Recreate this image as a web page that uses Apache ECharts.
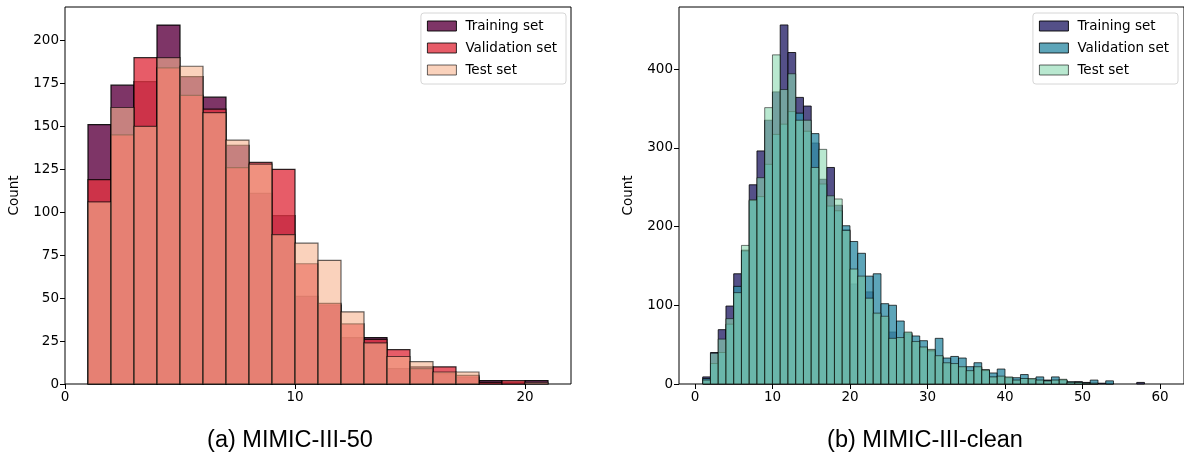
<!DOCTYPE html>
<html><head><meta charset="utf-8">
<script src="https://cdn.jsdelivr.net/npm/echarts@6/dist/echarts.min.js"></script>
<style>html,body{margin:0;padding:0;background:#fff}#c{width:1184px;height:461px}</style>
</head><body><div id="c"></div>
<script>
// ---------- (a) MIMIC-III-50 : histogram bins (left edge, width 1) ----------
const binStartA = [1,2,3,4,5,6,7,8,9,10,11,12,13,14,15,16,17,18,19,20];
const trainA = [151,174,176,209,179,167,139,111,98,51,46,27,27,9,10,6,4,2,1,2];
const valA   = [119,145,190,184,168,160,126,129,125,70,47,35,26,20,9,10,5,1,2,0];
const testA  = [106,161,150,190,185,158,142,128,87,82,72,42,24,16,13,7,7,0,0,1];

// ---------- (b) MIMIC-III-clean ----------
const binStartB = [1,2,3,4,5,6,7,8,9,10,11,12,13,14,15,16,17,18,19,20,
  21,22,23,24,25,26,27,28,29,30,31,32,33,34,35,36,37,38,39,40,
  41,42,43,44,45,46,47,48,49,50,51,52,53,54,55,56,57];
const trainB = [9,40,69,99,140,170,253,296,335,371,456,421,364,353,306,260,275,227,196,127,
  135,117,89,84,66,58,63,53,46,43,35,26,25,21,16,21,18,9,9,8,
  5,7,6,5,5,5,5,2,3,2,1,1,1,0,0,0,2];
const valB   = [7,26,40,76,124,169,233,238,279,317,330,346,344,321,318,254,226,220,201,181,
  166,137,140,102,100,80,65,61,55,42,58,33,35,33,22,27,17,14,19,8,
  8,12,6,9,4,9,5,3,2,1,5,0,4,0,0,0,0];
const testB  = [5,39,57,83,116,176,234,262,351,418,374,394,335,335,275,298,239,235,195,146,
  137,109,90,86,58,59,66,54,47,44,36,27,26,22,17,22,18,9,10,9,
  5,7,7,5,4,5,6,2,2,1,1,0,0,0,0,0,0];

const seriesNames = ['Training set', 'Validation set', 'Test set'];
const xTicksA = [0, 10, 20];
const yTicksA = [0, 25, 50, 75, 100, 125, 150, 175, 200];
const xTicksB = [0, 10, 20, 30, 40, 50, 60];
const yTicksB = [0, 100, 200, 300, 400];
const captions = ['(a) MIMIC-III-50', '(b) MIMIC-III-clean'];

// ---------- styles ----------
const colorsA = ['#701F57', '#E13342', '#F6B48F'];
const colorsB = ['#413D7B', '#348FA7', '#8AD9B1'];
const alphas = [0.9, 0.8, 0.6];
const FONT = 'DejaVu Sans';

function rows(starts, vals) { return starts.map((s, i) => [s, s + 1, vals[i]]); }

function histSeries(name, data, gi, color, alpha, lw) {
  return {
    type: 'custom', name: name, xAxisIndex: gi, yAxisIndex: gi,
    data: data, encode: {x: [0, 1], y: 2},
    itemStyle: {color: color, opacity: alpha},
    renderItem: function (params, api) {
      const v = api.value(2);
      if (!v) return null;
      const p0 = api.coord([api.value(0), 0]);
      const p1 = api.coord([api.value(1), v]);
      return {
        type: 'rect',
        shape: {x: p0[0], y: p1[1], width: p1[0] - p0[0], height: p0[1] - p1[1]},
        style: {fill: color, stroke: '#000', lineWidth: lw, opacity: alpha}
      };
    }
  };
}

function xAx(gi, min, max, ticks) {
  return {
    type: 'value', gridIndex: gi, min: min, max: max,
    axisLine: {show: false, onZero: false},
    axisTick: {show: true, length: 5, lineStyle: {color: '#000', width: 1}, customValues: ticks},
    axisLabel: {customValues: ticks, color: '#000', fontSize: 13.5, fontFamily: FONT, margin: 6},
    splitLine: {show: false}
  };
}
function yAx(gi, min, max, ticks) {
  return {
    type: 'value', gridIndex: gi, min: min, max: max, position: 'left',
    name: 'Count', nameLocation: 'middle', nameGap: 44, nameRotate: 90,
    nameTextStyle: {color: '#000', fontSize: 13.5, fontFamily: FONT},
    axisLine: {show: false, onZero: false},
    axisTick: {show: true, length: 5, lineStyle: {color: '#000', width: 1}, customValues: ticks},
    axisLabel: {customValues: ticks, color: '#000', fontSize: 13.5, fontFamily: FONT, margin: 6},
    splitLine: {show: false}
  };
}
function legendFor(right, colors) {
  return {
    orient: 'vertical', right: right, top: 13,
    padding: [6, 9, 7, 6], itemGap: 8, itemWidth: 29, itemHeight: 10, icon: 'rect',
    borderColor: '#d6d6d6', borderWidth: 1, borderRadius: 3, backgroundColor: 'rgba(255,255,255,0.8)',
    selectedMode: false,
    textStyle: {color: '#000', fontSize: 13.5, fontFamily: FONT, padding: [0, 0, 0, 4]},
    data: seriesNames.map((n, i) => ({name: n, itemStyle: {color: colors[i], opacity: alphas[i], borderColor: '#000', borderWidth: 1}}))
  };
}

const chart = echarts.init(document.getElementById('c'), null, {renderer: 'canvas'});
const series = [];
const valsA = [trainA, valA, testA], valsB = [trainB, valB, testB];
for (let i = 0; i < 3; i++) series.push(histSeries(seriesNames[i], rows(binStartA, valsA[i]), 0, colorsA[i], alphas[i], 1.2));
for (let i = 0; i < 3; i++) series.push(histSeries(seriesNames[i], rows(binStartB, valsB[i]), 1, colorsB[i], alphas[i], 0.9));

chart.setOption({
  animation: false,
  backgroundColor: '#fff',
  grid: [
    {left: 65, top: 7, width: 506, height: 377, show: true, borderColor: '#000', borderWidth: 1, backgroundColor: 'transparent'},
    {left: 679, top: 7, width: 506, height: 377, show: true, borderColor: '#000', borderWidth: 1, backgroundColor: 'transparent'}
  ],
  xAxis: [xAx(0, 0, 22, xTicksA), xAx(1, -2.06, 63.1, xTicksB)],
  yAxis: [yAx(0, 0, 219.5, yTicksA), yAx(1, 0, 478.8, yTicksB)],
  legend: [legendFor(618, colorsA), legendFor(6, colorsB)],
  graphic: [
    {type: 'text', x: 290, y: 441, style: {text: captions[0], align: 'center', verticalAlign: 'middle', fill: '#000', font: '23.5px "Liberation Sans"'}},
    {type: 'text', x: 925, y: 441, style: {text: captions[1], align: 'center', verticalAlign: 'middle', fill: '#000', font: '23.5px "Liberation Sans"'}}
  ],
  series: series
});
</script></body></html>
